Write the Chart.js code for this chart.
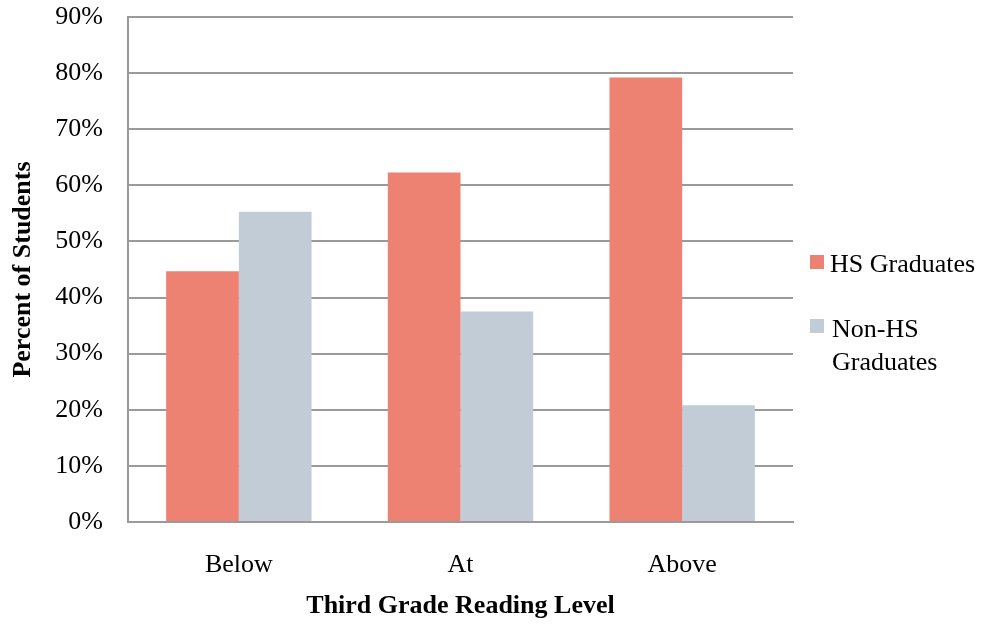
<!DOCTYPE html>
<html>
<head>
<meta charset="utf-8">
<script src="https://cdn.jsdelivr.net/npm/chart.js@4"></script>
<style>
  html, body { margin: 0; padding: 0; background: #fff; }
  #wrap { position: relative; width: 982px; height: 629px; }
  #legend { position: absolute; left: 810px; top: 0; font-family: "Liberation Serif", serif; font-size: 26px; line-height: 33px; color: #000; }
  .sw { position: absolute; left: 0; width: 14px; height: 14px; }
  .txt { position: absolute; width: 152px; }
</style>
</head>
<body>
<div id="wrap">
  <canvas id="c"></canvas>
  <div id="legend"></div>
</div>
<script>
const categories = ["Below", "At", "Above"];
const seriesNames = ["HS Graduates", "Non-HS Graduates"];
const hsGraduates = [44.7, 62.3, 79.2];
const nonHsGraduates = [55.3, 37.5, 20.8];
const yTicks = [0, 10, 20, 30, 40, 50, 60, 70, 80, 90];
const colors = ["#EE8272", "#C1CCD6"];

const grid = "#9A9A9A";
const font = "'Liberation Serif', 'Times New Roman', serif";

new Chart(document.getElementById("c"), {
  type: "bar",
  data: {
    labels: categories,
    datasets: [
      { label: seriesNames[0], data: hsGraduates, backgroundColor: colors[0], borderWidth: 0 },
      { label: seriesNames[1], data: nonHsGraduates, backgroundColor: colors[1], borderWidth: 0 }
    ]
  },
  options: {
    responsive: true,
    maintainAspectRatio: false,
    animation: false,
    layout: { padding: { top: 17, right: 189, bottom: 0, left: 0 } },
    datasets: { bar: { categoryPercentage: 0.656, barPercentage: 1 } },
    plugins: { legend: { display: false }, tooltip: { enabled: false } },
    scales: {
      x: {
        grid: { display: false, drawTicks: false },
        border: { display: true, color: grid, width: 2 },
        ticks: { color: "#000", font: { family: font, size: 26 }, padding: 28 },
        title: { display: true, text: "Third Grade Reading Level", color: "#000",
                 font: { family: font, size: 26, weight: "bold" }, padding: { top: 0, bottom: 7 } },
        afterFit: s => { s.height = 107; s.paddingLeft = 0; s.paddingRight = 0; }
      },
      y: {
        min: yTicks[0], max: yTicks[yTicks.length - 1],
        afterBuildTicks: s => { s.ticks = yTicks.map(v => ({ value: v })); },
        grid: { color: grid, lineWidth: 2, drawTicks: false },
        border: { display: true, color: grid, width: 2 },
        ticks: { color: "#000", font: { family: font, size: 26 }, padding: 25, callback: v => v + "%" },
        title: { display: true, text: "Percent of Students", color: "#000",
                 font: { family: font, size: 26, weight: "bold" }, padding: { top: 8, bottom: 0 } },
        afterFit: s => { s.width = 128; s.paddingTop = 0; s.paddingBottom = 0; }
      }
    }
  }
});

// HTML legend built from the series
const legend = document.getElementById("legend");
const swTops = [255, 319];
seriesNames.forEach((name, i) => {
  const sw = document.createElement("div");
  sw.className = "sw";
  sw.style.top = swTops[i] + "px";
  sw.style.background = colors[i];
  legend.appendChild(sw);
  const t = document.createElement("div");
  t.className = "txt";
  t.style.left = (i === 0 ? 20 : 22) + "px";
  t.style.top = (i === 0 ? 247 : 312) + "px";
  t.textContent = name;
  legend.appendChild(t);
});
</script>
</body>
</html>
